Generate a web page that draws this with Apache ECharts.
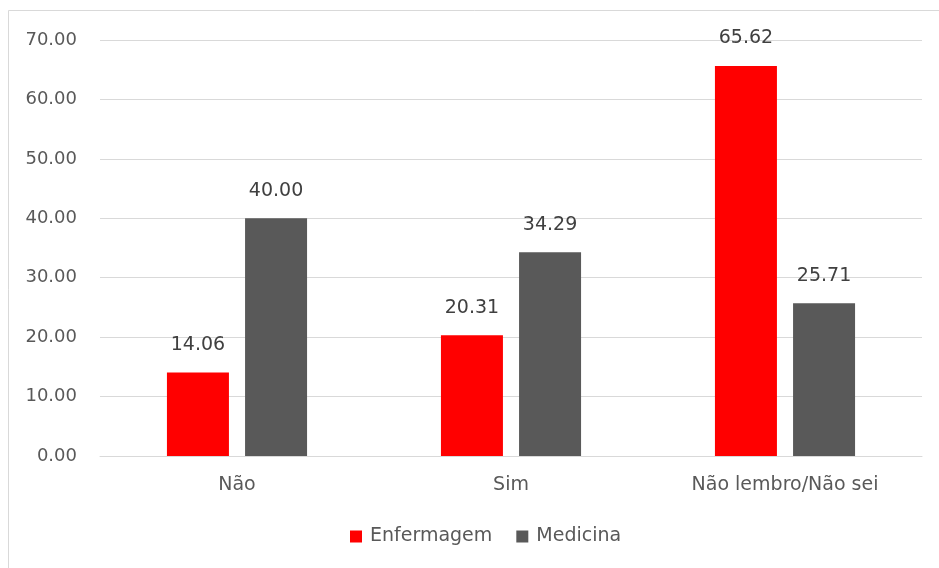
<!DOCTYPE html>
<html>
<head>
    <meta charset="utf-8">
    <script src="https://cdn.jsdelivr.net/npm/echarts@6/dist/echarts.min.js"></script>
</head>
<body style="margin:0">
<div id="main" style="width: 939px;height:568px;"></div>
<script type="text/javascript">
    var categories = ['Não', 'Sim', 'Não lembro/Não sei'];
    var enfermagem = [14.06, 20.31, 65.62];
    var medicina = [40.00, 34.29, 25.71];

    var myChart = echarts.init(document.getElementById('main'));
    var font = '"DejaVu Sans", sans-serif';

    var labelStyle = {
        show: true,
        position: 'top',
        distance: 18,
        color: '#404040',
        fontSize: 19,
        fontFamily: font,
        formatter: function (p) { return p.value.toFixed(2); }
    };

    option = {
        animation: false,
        backgroundColor: '#fff',
        textStyle: {fontFamily: font},
        graphic: [{
            type: 'rect',
            shape: {x: 8.5, y: 10.5, width: 960, height: 600},
            style: {fill: 'none', stroke: '#d9d9d9', lineWidth: 1}
        }],
        grid: {left: 100, right: 17, top: 40, bottom: 112},
        legend: {
            bottom: 17,
            left: 345,
            itemWidth: 12,
            itemHeight: 12,
            itemGap: 24,
            icon: 'rect',
            textStyle: {color: '#595959', fontSize: 19, fontFamily: font, padding: [0, 0, 0, 3]},
            data: ['Enfermagem', 'Medicina']
        },
        xAxis: {
            type: 'category',
            data: categories,
            axisLine: {lineStyle: {color: '#d9d9d9'}},
            axisTick: {show: false},
            axisLabel: {color: '#595959', fontSize: 19, margin: 20, fontFamily: font}
        },
        yAxis: {
            type: 'value',
            min: 0,
            max: 70,
            interval: 10,
            axisLine: {show: false},
            axisTick: {show: false},
            splitLine: {lineStyle: {color: '#d9d9d9'}},
            axisLabel: {
                color: '#595959', fontSize: 18, margin: 23, fontFamily: font,
                padding: [0, 0, 6, 0],
                formatter: function (v) { return v.toFixed(2); }
            }
        },
        series: [
            {
                name: 'Enfermagem',
                type: 'bar',
                data: enfermagem,
                barWidth: 62,
                barGap: '26%',
                itemStyle: {color: '#ff0000'},
                label: labelStyle
            },
            {
                name: 'Medicina',
                type: 'bar',
                data: medicina,
                barWidth: 62,
                itemStyle: {color: '#595959'},
                label: labelStyle
            }
        ]
    };

    myChart.setOption(option);
</script>
</body>
</html>
